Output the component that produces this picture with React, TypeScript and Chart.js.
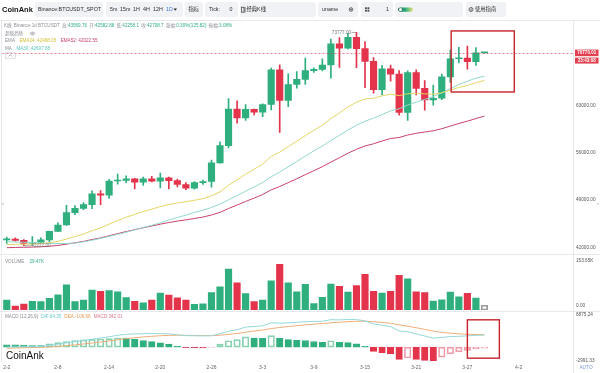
import React, { useEffect, useRef } from 'react';
import { Chart, registerables } from 'chart.js';

Chart.register(...registerables);

const FONT = '"Liberation Sans", Arial, "Noto Sans CJK SC", sans-serif';

// ---------- categories ----------
const dates = [
  '2-2','2-3','2-4','2-5','2-6','2-7','2-8','2-9','2-10','2-11','2-12','2-13','2-14','2-15','2-16','2-17','2-18','2-19','2-20','2-21','2-22','2-23','2-24','2-25','2-26','2-27','2-28','2-29',
  '3-1','3-2','3-3','3-4','3-5','3-6','3-7','3-8','3-9','3-10','3-11','3-12','3-13','3-14','3-15','3-16','3-17','3-18','3-19','3-20','3-21','3-22','3-23','3-24','3-25','3-26','3-27','3-28','3-29','3-30','3-31',
  '4-1','4-2','4-3','4-4','4-5','4-6','4-7','4-8',
];
const dateTicks = ['2-2','2-8','2-14','2-20','2-26','3-3','3-9','3-15','3-21','3-27','4-2'];

// ---------- price series (BTCUSDT 1d) ----------
const openP = [43082.94,43199.99,43011.10,42582.88,42708.70,43098.96,44349.60,45288.66,47132.78,47751.08,48300.00,49917.28,49699.60,51795.17,51880.01,52124.10,51642.64,52137.68,51774.74,52258.82,51849.38,51288.42,50744.15,51568.21,51728.85,54476.48,57037.35,62432.11,61130.99,62387.90,61987.28,63113.97,68245.71,63724.01,66074.03,66823.18,68124.20,68313.28,68955.88,72078.49,71452.00,73072.40,71388.94,69499.84,65300.64,68393.47,67610.00,61937.41,67840.51,65501.28,63796.64,64037.80,67211.13,69880.00,69987.99,69469.99,70744.95];
const highP = [43494.25,43380.01,43119.04,43569.76,43399.98,44396.50,45614.30,48200.00,48170.00,48592.66,50334.82,50368.61,52043.71,52816.62,52572.08,52200.00,52377.00,52488.77,52985.00,52366.80,52065.78,51548.54,51698.00,51950.00,54910.00,57588.15,64000.00,63676.35,63114.23,62433.19,63231.88,68499.00,69000.00,67641.10,67980.00,69990.00,68541.10,69887.61,72800.00,73000.00,73650.25,73777.00,72419.71,70043.00,68904.40,68956.00,68124.11,68100.00,68240.47,66649.62,65999.00,67622.76,71150.00,71561.10,71769.54,71552.06,70800.00];
const lowP = [42546.79,42880.00,42222.00,42258.10,42574.00,42788.00,44331.10,45242.12,46800.00,47557.16,47710.01,48300.95,49225.01,51314.00,51566.00,50625.00,51163.28,51677.00,50760.37,50625.00,50940.78,50521.00,50585.00,51306.17,50901.44,54450.13,56691.85,60364.70,60777.00,61561.12,61320.00,62300.00,59005.00,62779.14,65551.00,66082.66,67861.10,68094.75,67024.96,68620.82,71333.31,68555.00,65600.00,64780.00,64533.00,66565.20,61555.00,60775.00,64529.01,62260.00,63000.00,63825.85,66385.06,69280.00,68359.18,68903.62,70700.00];
const closeP = [43199.99,43011.09,42582.88,42708.70,43098.95,44349.60,45288.65,47132.77,47751.09,48299.99,49917.27,49699.59,51795.17,51880.00,52124.11,51642.64,52137.67,51774.73,52258.82,51849.39,51288.42,50744.15,51568.22,51728.85,54476.47,57037.34,62432.10,61130.98,62387.90,61987.28,63113.97,68245.71,63724.01,66074.04,66823.17,68124.19,68313.27,68955.88,72078.48,71452.01,73072.41,71388.94,69499.85,65300.63,68393.48,67609.99,61937.40,67840.51,65501.27,63796.64,64037.80,67211.14,69880.01,69988.00,69469.99,70744.95,70770.01];

const ema24 = [42385,42435,42447,42468.05,42518,42665,42875,43217,43581,43958,44438,44862,45419,45941,46438,46856,47277,47637,48009,48315,48554,48728,48955,49177,49601,50196,51175,51971,52804,53539,54305,55420,56084,56883,57678,58514,59298,60071,61032,61866,62762,63452,63936,64045,64393,64650,64433,64706,64770,64692,64640,64846,65249,65628,65935,66320,66676];
const ema52 = [41932,41972,41995,42022.55,42063,42150,42268,42452,42653,42866,43134,43383,43702,44013,44320,44597,44881,45141,45411,45654,45867,46051,46259,46466,46768,47156,47733,48239,48773,49272,49794,50490,50989,51558,52134,52738,53326,53916,54601,55237,55910,56494,56985,57299,57718,58091,58236,58599,58860,59046,59234,59535,59925,60305,60651,61032,61400];
const ma30 = [42822,42783,42730,42697.68,42661,42574,42547,42564,42612,42795,43033,43300,43610,43904,44218,44564,44914,45252,45609,46017,46398,46753,47141,47472,47884,48384,49022,49628,50288,50918,51582,52423,53128,53907,54698,55490,56258,56985,57795,58567,59337,60059,60648,61093,61635,62166,62493,63029,63469,63868,64292,64842,65452,66060,66560,67017,67295];

const volume = [33000,13400,20000,29470,28000,39000,51000,85000,28000,33000,67000,63000,65000,61000,42000,29000,24500,33000,57000,50000,41000,33000,19000,21000,59000,78000,138000,91000,55000,28000,33000,98000,153650,91000,61000,86000,22000,43000,87000,80000,60000,82000,120000,63000,57000,63000,117000,105000,61000,59000,30000,34500,60000,44500,56000,40000,16000];

const macdHist = [500,480,440,342.01,330,700,950,1200,1400,1550,1650,1720,1800,1950,1900,1650,1400,1150,900,650,200,-140,-140,-180,-90,640,1350,1600,2200,1950,1850,2450,1850,1600,1450,1400,1200,1000,1350,1000,950,700,150,-930,-1200,-1450,-2650,-2350,-2650,-2850,-2991.33,-2150,-1450,-1050,-700,-380,-220];
const dif = [-15,35,70,64.35,99,372,616,891,1166,1435,1691,1941,2206,2525,2738,2819,2869,2888,2876,2832,2632,2444,2426,2383,2417,2862,3386,3711,4286,4405,4586,5192,5123,5198,5304,5454,5504,5529,5873,5823,5917,5880,5624,4968,4683,4377,3446,3302,2821,2365,1920,2072,2241,2310,2397,2510,2562];
const dea = [-265,-205,-150,-106.66,-66,22,141,291,466,660,866,1081,1306,1550,1788,1994,2169,2313,2426,2507,2532,2514,2496,2473,2462,2542,2711,2911,3186,3430,3661,3967,4198,4398,4579,4754,4904,5029,5198,5323,5442,5530,5549,5433,5283,5102,4771,4477,4146,3790,3416,3147,2966,2835,2747,2700,2672];

// ---------- axis ticks / ranges ----------
const priceTicks = [42000, 49000, 56000, 63000];
const priceRange = [41000, 75470];
const volumeTicks = [0, 153650];
const volumeRange = [0, 185000];
const macdTicks = [-2991.33, 6875.24];
const countdown = '23:43:08';
const HOVER = 3;
const highlightBox = { from: 52.1, to: 59.5, top: 74000, bottom: 64970 };
const macdBox = { from: 54.0, to: 57.75, top: 5840, bottom: -2385 };

// ---------- styles ----------
const UP = '#2eaf7d';
const DOWN = '#e3344c';
const UP_LIGHT = '#86d2b1';
const DOWN_LIGHT = '#f19aa8';
const C_EMA24 = '#e4d667';
const C_EMA52 = '#c8436c';
const C_MA30 = '#93d8cf';
const C_DIF = '#95d8da';
const C_DEA = '#efae7a';

const candleColor = closeP.map((c, i) => (c >= openP[i] ? UP : DOWN));

function xAxis(show: boolean) {
  return {
    type: 'category' as const,
    offset: true,
    display: show,
    grid: { display: false, drawTicks: false },
    border: { display: false },
    ticks: {
      autoSkip: false, maxRotation: 0, minRotation: 0, padding: 3.5,
      color: '#666', font: { size: 5, family: FONT },
      callback: (_v: any, i: number) => (dateTicks.includes(dates[i]) ? dates[i] : ''),
    },
    afterFit: (s: any) => { if (show) s.height = 12; s.paddingLeft = 0; s.paddingRight = 0; },
  };
}

function yAxis(min: number, max: number, vals: number[], fmt: (v: any) => string, labelOffset = 0) {
  return {
    position: 'right' as const, min, max,
    grid: { display: false, drawTicks: false },
    border: { display: false },
    afterBuildTicks: (s: any) => { s.ticks = vals.map((v) => ({ value: v })); },
    ticks: { padding: 2, color: '#555', font: { size: 4.7, family: FONT }, callback: fmt, labelOffset },
    afterFit: (s: any) => { s.width = 26; s.paddingTop = 0; s.paddingBottom = 0; },
  };
}

const baseOpts = (padTop: number, padBottom: number) => ({
  responsive: false,
  animation: false as const,
  events: [] as any[],
  layout: { padding: { left: 2.5, right: 0, top: padTop, bottom: padBottom } },
  plugins: { legend: { display: false }, tooltip: { enabled: false } },
});

const mainDecor = {
  id: 'mainDecor',
  afterDatasetsDraw(chart: any) {
    const { ctx, chartArea, scales } = chart;
    const x = scales.x, y = scales.y;
    const last = closeP[closeP.length - 1];
    const py = y.getPixelForValue(last);
    ctx.save();
    ctx.setLineDash([2, 2]);
    ctx.strokeStyle = 'rgba(227,52,76,0.8)';
    ctx.lineWidth = 0.8;
    ctx.beginPath();
    ctx.moveTo(chartArea.left, Math.round(py) + 0.5);
    ctx.lineTo(chartArea.right, Math.round(py) + 0.5);
    ctx.stroke();
    ctx.setLineDash([]);
    ctx.fillStyle = '#e0404f';
    ctx.fillRect(chartArea.right + 1, py - 3.2, 23.5, 6.6);
    ctx.fillRect(chartArea.right + 1, py + 4.8, 23.5, 6);
    ctx.fillStyle = '#fff';
    ctx.font = `bold 4.5px ${FONT}`;
    ctx.textAlign = 'center';
    ctx.textBaseline = 'middle';
    ctx.fillText(last.toFixed(2), chartArea.right + 12.75, py + 0.2);
    ctx.fillText(countdown, chartArea.right + 12.75, py + 7.9);
    let hi = 0, lo = 0;
    highP.forEach((v, i) => { if (v > highP[hi]) hi = i; });
    lowP.forEach((v, i) => { if (v < lowP[lo]) lo = i; });
    ctx.strokeStyle = '#888';
    ctx.lineWidth = 0.7;
    ctx.fillStyle = '#777';
    ctx.font = `4.6px ${FONT}`;
    const hx = x.getPixelForValue(hi), hy = y.getPixelForValue(highP[hi]);
    ctx.beginPath(); ctx.moveTo(hx - 5, hy); ctx.lineTo(hx - 0.5, hy); ctx.stroke();
    ctx.textAlign = 'right';
    ctx.fillText(highP[hi].toFixed(2), hx - 5.5, hy);
    const lx = x.getPixelForValue(lo), ly = y.getPixelForValue(lowP[lo]);
    ctx.beginPath(); ctx.moveTo(lx + 0.5, ly); ctx.lineTo(lx + 7, ly); ctx.stroke();
    ctx.textAlign = 'left';
    ctx.fillText(lowP[lo].toFixed(2), lx + 7.5, ly);
    ctx.strokeStyle = '#c8232c';
    ctx.lineWidth = 1.4;
    const bx0 = x.getPixelForValue(highlightBox.from), bx1 = x.getPixelForValue(highlightBox.to);
    const by0 = y.getPixelForValue(highlightBox.top), by1 = y.getPixelForValue(highlightBox.bottom);
    ctx.strokeRect(bx0, by0, bx1 - bx0, by1 - by0);
    ctx.restore();
  },
};

const macdDecor = {
  id: 'macdDecor',
  afterDatasetsDraw(chart: any) {
    const { ctx, scales } = chart;
    const x = scales.x, y = scales.y;
    ctx.save();
    ctx.strokeStyle = '#c8232c';
    ctx.lineWidth = 1.4;
    const bx0 = x.getPixelForValue(macdBox.from), bx1 = x.getPixelForValue(macdBox.to);
    const by0 = y.getPixelForValue(macdBox.top), by1 = y.getPixelForValue(macdBox.bottom);
    ctx.strokeRect(bx0, by0, bx1 - bx0, by1 - by0);
    ctx.restore();
  },
};

function seq(ctx: CanvasRenderingContext2D, groups: [string, string][][], x0: number, y: number, gap: number) {
  let x = x0;
  for (const g of groups) {
    for (const [t, col] of g) { ctx.fillStyle = col; ctx.fillText(t, x, y); x += ctx.measureText(t).width; }
    x += gap;
  }
}

function drawOverlay(ctx: CanvasRenderingContext2D) {
  const G = '#8b8e94';
  ctx.clearRect(0, 0, 600, 373);
  ctx.textBaseline = 'middle';
  ctx.textAlign = 'left';
  ctx.fillStyle = '#e6e8ec';
  ctx.fillRect(0, 20, 600, 1);
  ctx.fillRect(0, 254, 600, 1);
  ctx.fillRect(0, 311, 600, 1);
  ctx.fillRect(1, 21, 1, 341);
  ctx.fillRect(573, 21, 1, 352);

  // toolbar
  ctx.fillStyle = '#111';
  ctx.font = `bold 7.5px ${FONT}`;
  ctx.fillText('CoinAnk', 2, 9.5);
  const pills = [[35,2,68,15],[106,2,77,15],[185,2,18,15],[205,2,33,15],[240,2,76,15],[318,2,40,15],[361,2,32,15],[395,2,68,15],[466,2,40,15]];
  ctx.fillStyle = '#f1f2f5';
  pills.forEach(([x, y, w, h]) => { ctx.beginPath(); ctx.roundRect(x, y, w, h, 2.5); ctx.fill(); });
  ctx.font = `5.3px ${FONT}`;
  ctx.fillStyle = '#2b2b2b';
  ctx.fillText('Binance:BTCUSDT_SPOT', 38, 9.7);
  [['5m',110],['15m',120],['1H',133],['4H',143],['12H',153]].forEach(([t, x]) => ctx.fillText(t as string, x as number, 9.7));
  ctx.fillStyle = '#3a78e0';
  ctx.fillText('1D', 166, 9.7);
  ctx.fillStyle = '#2b2b2b';
  ctx.beginPath(); ctx.moveTo(173.5, 8.5); ctx.lineTo(177, 8.5); ctx.lineTo(175.25, 10.8); ctx.fill();
  ctx.fillText('指标', 188.5, 9.7);
  ctx.fillText('Tick:', 209, 9.7);
  ctx.fillText('0', 229.5, 9.7);
  ctx.strokeStyle = '#333'; ctx.lineWidth = 0.7;
  ctx.strokeRect(241.5, 7.2, 2.5, 5); ctx.beginPath(); ctx.moveTo(245, 7); ctx.lineTo(245, 12.5); ctx.stroke();
  ctx.fillText('经典K线', 246.5, 9.7);
  ctx.fillText('uname', 322, 9.7);
  ctx.beginPath(); ctx.arc(351, 9.5, 1.8, 0, Math.PI * 2); ctx.stroke();
  ctx.beginPath(); ctx.arc(351, 9.5, 0.6, 0, Math.PI * 2); ctx.stroke();
  ctx.fillStyle = '#444';
  [[365,7.3],[367.5,7.3],[365,9.8],[367.5,9.8]].forEach(([x, y]) => ctx.fillRect(x, y, 1.8, 1.8));
  ctx.fillStyle = '#2b2b2b';
  ctx.fillText('1', 386, 9.7);
  const grad = ctx.createLinearGradient(398, 0, 413, 0);
  grad.addColorStop(0, '#1d5e48'); grad.addColorStop(0.5, '#2eaf7d'); grad.addColorStop(1, '#e9e27a');
  ctx.fillStyle = grad;
  ctx.beginPath(); ctx.roundRect(398, 7.5, 15, 4.2, 2.1); ctx.fill();
  ctx.fillStyle = '#fff';
  ctx.beginPath(); ctx.arc(400.5, 9.6, 1.5, 0, Math.PI * 2); ctx.fill();
  ctx.strokeStyle = '#333';
  ctx.beginPath(); ctx.arc(471, 9.5, 2, 0, Math.PI * 2); ctx.stroke();
  ctx.fillStyle = '#333';
  ctx.fillRect(470.7, 8.9, 0.7, 2); ctx.fillRect(470.7, 7.8, 0.7, 0.6);
  ctx.fillStyle = '#2b2b2b';
  ctx.fillText('使用指南', 475, 9.7);

  // legend line 1
  const o = openP[HOVER], h = highP[HOVER], l = lowP[HOVER], c = closeP[HOVER];
  const chg = c - o;
  const V = c >= o ? UP : DOWN;
  ctx.font = `4.6px ${FONT}`;
  seq(ctx, [
    [['K线', G]], [['Binance 1d BTCUSDT', G]],
    [['高:', G], [String(h), V]], [['开:', G], [String(o), V]], [['低:', G], [String(l), V]], [['收:', G], [String(c), V]],
    [['涨幅:', G], [(chg / o * 100).toFixed(2) + '%(' + chg.toFixed(2) + ')', V]],
    [['振幅:', G], [((h - l) / o * 100).toFixed(2) + '%', V]],
  ], 4, 26, 2.2);
  ctx.fillStyle = G;
  ctx.fillText('超级趋势', 5, 33.5);
  ctx.strokeStyle = G; ctx.lineWidth = 0.6;
  ctx.beginPath(); ctx.ellipse(32.5, 33.5, 2.3, 1.4, 0, 0, Math.PI * 2); ctx.stroke();
  ctx.beginPath(); ctx.arc(32.5, 33.5, 0.7, 0, Math.PI * 2); ctx.stroke();
  seq(ctx, [[['EMA', G]], [['EMA24: ' + ema24[HOVER].toFixed(2), '#d2c23a']], [['EMA52: ' + ema52[HOVER].toFixed(2), C_EMA52]]], 5, 41, 4.5);
  seq(ctx, [[['MA', G]], [['MA30: ' + ma30[HOVER].toFixed(2), '#5fc6bb']]], 5, 48.5, 4.5);
  ctx.strokeStyle = '#c3c6cc'; ctx.lineWidth = 0.6;
  ctx.strokeRect(5.3, 52.8, 10, 5.4);
  ctx.strokeStyle = '#777';
  ctx.beginPath(); ctx.moveTo(8.6, 56.4); ctx.lineTo(10.3, 54.7); ctx.lineTo(12, 56.4); ctx.stroke();

  seq(ctx, [[['VOLUME', G]], [[(volume[HOVER] / 1000).toFixed(2) + 'K', V]]], 5, 262, 5);

  seq(ctx, [
    [['MACD (12,26,9)', G]],
    [['DIF:' + dif[HOVER].toFixed(2), '#6cc9cb']],
    [['DEA:' + dea[HOVER].toFixed(2), '#e39a55']],
    [['MACD:' + macdHist[HOVER].toFixed(2), '#e07a8c']],
  ], 5, 316.9, 3);

  ctx.fillStyle = '#111';
  ctx.font = `10px ${FONT}`;
  ctx.textBaseline = 'alphabetic';
  ctx.fillText('CoinAnk', 6, 359);

  ctx.textBaseline = 'middle';
  ctx.font = `4.8px ${FONT}`;
  ctx.fillStyle = '#7b9ad6';
  ctx.textAlign = 'center';
  ctx.fillText('AUTO', 586, 368);
  ctx.fillStyle = '#999';
  ctx.font = `6px ${FONT}`;
  ctx.fillText('‹', 3, 203);
  ctx.fillText('›', 598, 203);
}

export default function App() {
  const mainRef = useRef<HTMLCanvasElement>(null);
  const volRef = useRef<HTMLCanvasElement>(null);
  const macdRef = useRef<HTMLCanvasElement>(null);
  const overRef = useRef<HTMLCanvasElement>(null);

  useEffect(() => {
    const charts: Chart[] = [];
    const bodyData = openP.map((o, i) => [Math.min(o, closeP[i]), Math.max(o, closeP[i])]);
    const wickData = lowP.map((l, i) => [l, highP[i]]);
    const line = (data: number[], color: string, order: number) => ({
      type: 'line' as const, data, borderColor: color, borderWidth: 1, pointRadius: 0, tension: 0, order,
    });

    charts.push(new Chart(mainRef.current!, {
      type: 'bar',
      data: {
        labels: dates,
        datasets: [
          line(ema24, C_EMA24, 0) as any,
          line(ma30, C_MA30, 0) as any,
          line(ema52, C_EMA52, 0) as any,
          { type: 'bar', data: bodyData as any, backgroundColor: candleColor, borderWidth: 0, barThickness: 6.5, minBarLength: 1, grouped: false, order: 1 },
          { type: 'bar', data: wickData as any, backgroundColor: candleColor, borderWidth: 0, barThickness: 1, grouped: false, order: 2 },
        ],
      },
      options: {
        ...baseOpts(0, 0),
        scales: {
          x: xAxis(false) as any,
          y: yAxis(priceRange[0], priceRange[1], priceTicks, (v) => Number(v).toFixed(2)) as any,
        },
      },
      plugins: [mainDecor],
    }));

    const volFill = volume.map((_, i) => (i === volume.length - 1 ? 'rgba(0,0,0,0)' : candleColor[i]));
    const volStroke = volume.map((_, i) => (i === volume.length - 1 ? '#9a9a9a' : candleColor[i]));
    charts.push(new Chart(volRef.current!, {
      type: 'bar',
      data: {
        labels: dates,
        datasets: [{ data: volume, backgroundColor: volFill, borderColor: volStroke, borderWidth: volume.map((_, i) => (i === volume.length - 1 ? 1 : 0)), borderSkipped: false, barThickness: 6.5 }],
      },
      options: {
        ...baseOpts(0, 1),
        scales: {
          x: xAxis(false) as any,
          y: yAxis(volumeRange[0], volumeRange[1], volumeTicks, (v) => (Number(v) === 0 ? '0.00' : (Number(v) / 1000).toFixed(2) + 'K'), -4) as any,
        },
      },
    }));

    const histRising = macdHist.map((v, i) => i > 0 && v > macdHist[i - 1]);
    const histFill = macdHist.map((v, i) => (histRising[i] ? 'rgba(0,0,0,0)' : v >= 0 ? UP : DOWN));
    const histStroke = macdHist.map((v, i) => (histRising[i] ? (v >= 0 ? UP_LIGHT : DOWN_LIGHT) : v >= 0 ? UP : DOWN));
    charts.push(new Chart(macdRef.current!, {
      type: 'bar',
      data: {
        labels: dates,
        datasets: [
          line(dif, C_DIF, 0) as any,
          line(dea, C_DEA, 0) as any,
          { type: 'bar', data: macdHist, backgroundColor: histFill, borderColor: histStroke, borderWidth: 1, borderSkipped: false, barThickness: 6.5, order: 2 },
        ],
      },
      options: {
        ...baseOpts(7, 0),
        scales: {
          x: xAxis(true) as any,
          y: yAxis(macdTicks[0], macdTicks[1], macdTicks, (v) => Number(v).toFixed(2), 0) as any,
        },
      },
      plugins: [macdDecor],
    }));

    drawOverlay(overRef.current!.getContext('2d')!);
    return () => charts.forEach((c) => c.destroy());
  }, []);

  const abs = (top: number, h: number): React.CSSProperties => ({ position: 'absolute', left: 0, top, width: 600, height: h });
  return (
    <div style={{ position: 'fixed', left: 0, top: 0, width: 600, height: 373, background: '#fff', overflow: 'hidden' }}>
      <canvas ref={mainRef} width={600} height={233} style={abs(21, 233)} />
      <canvas ref={volRef} width={600} height={56} style={abs(255, 56)} />
      <canvas ref={macdRef} width={600} height={65} style={abs(308, 65)} />
      <canvas ref={overRef} width={600} height={373} style={{ ...abs(0, 373), pointerEvents: 'none' }} />
    </div>
  );
}
